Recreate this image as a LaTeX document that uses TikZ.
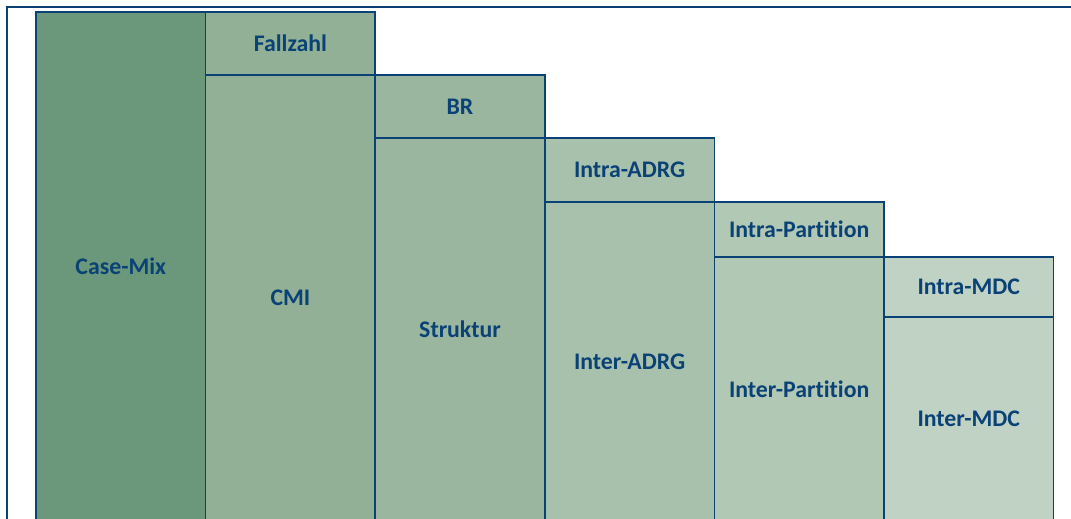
\documentclass[tikz,border=0pt]{standalone}
\usepackage{fontspec}
\setmainfont[Ligatures=NoCommon]{Carlito}
\usepackage{xcolor}
\usepackage{tikz}
\usetikzlibrary{positioning}
\definecolor{ahdBlue}{RGB}{10,66,118}
\definecolor{ahdGreenA}{RGB}{107,152,122}
\definecolor{ahdGreenB}{RGB}{145,176,150}
\definecolor{ahdGreenC}{RGB}{154,182,159}
\definecolor{ahdGreenD}{RGB}{168,193,172}
\definecolor{ahdGreenE}{RGB}{177,200,181}
\definecolor{ahdGreenF}{RGB}{191,210,196}

\begin{document}
\begin{tikzpicture}[
    x=1pt, y=1pt,
    col/.style={rectangle, draw=ahdBlue, line width=0.85pt, outer sep=0pt, inner sep=0pt, minimum width=84.8pt, align=center, text=ahdBlue, font=\bfseries\fontsize{11.9}{14}\selectfont},
    boxA/.style={col, fill=ahdGreenA},
    boxB/.style={col, fill=ahdGreenB},
    boxC/.style={col, fill=ahdGreenC},
    boxD/.style={col, fill=ahdGreenD},
    boxE/.style={col, fill=ahdGreenE},
    boxF/.style={col, fill=ahdGreenF},
    frame/.style={draw=ahdBlue, line width=1.1pt}
]
\useasboundingbox (0,0) rectangle (535.5,259.5);
\draw[frame] (3.5,-2) -- (3.5,256) -- (540,256);
\node[boxA, minimum height=254.5pt, anchor=south west] (casemix) at (18,-1) {Case-Mix};
\node[boxB, minimum height=223pt, anchor=south west] (cmi) at (casemix.south east) {CMI};
\node[boxB, minimum height=31.5pt, above=0pt of cmi] (fallzahl) {Fallzahl};
\node[boxC, minimum height=191.5pt, anchor=south west] (struktur) at (cmi.south east) {Struktur};
\node[boxC, minimum height=31.5pt, above=0pt of struktur] (br) {BR};
\node[boxD, minimum height=159.5pt, anchor=south west] (interadrg) at (struktur.south east) {Inter-ADRG};
\node[boxD, minimum height=32pt, above=0pt of interadrg] (intraadrg) {Intra-ADRG};
\node[boxE, minimum height=132pt, anchor=south west] (interpart) at (interadrg.south east) {Inter-Partition};
\node[boxE, minimum height=27.5pt, above=0pt of interpart] (intrapart) {Intra-Partition};
\node[boxF, minimum height=102pt, anchor=south west] (intermdc) at (interpart.south east) {Inter-MDC};
\node[boxF, minimum height=30pt, above=0pt of intermdc] (intramdc) {Intra-MDC};
\end{tikzpicture}
\end{document}
